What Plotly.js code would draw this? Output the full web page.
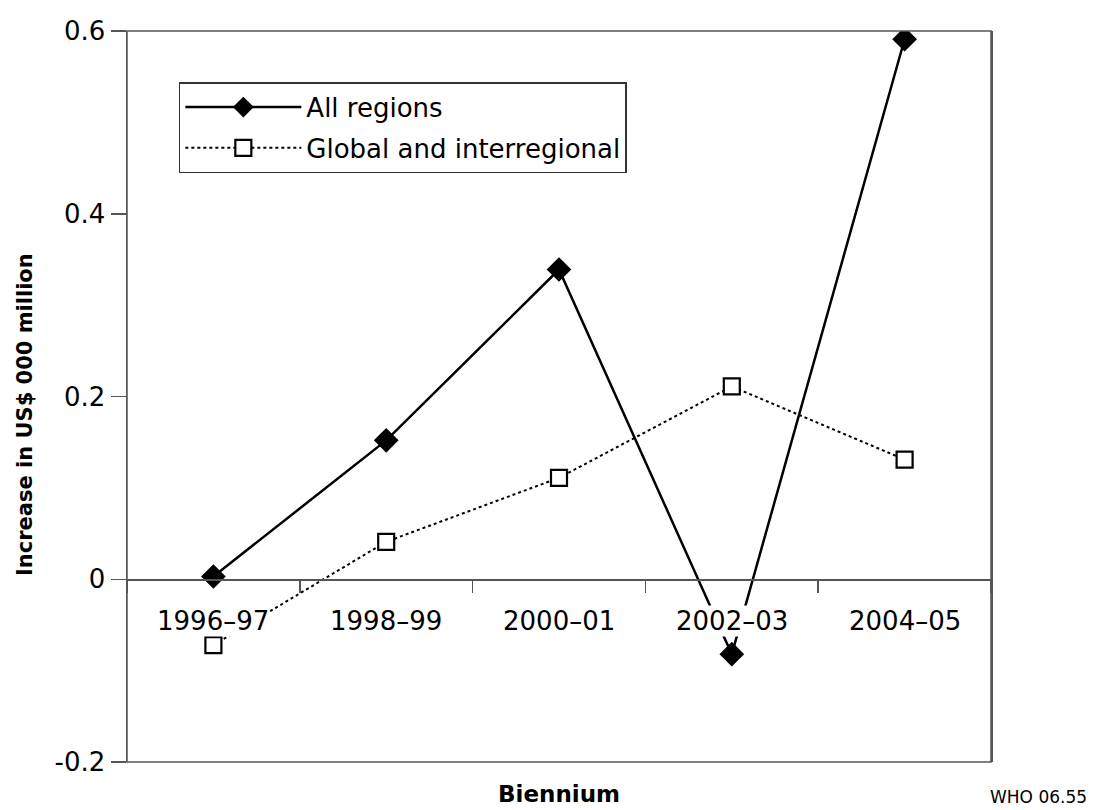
<!DOCTYPE html>
<html>
<head>
<meta charset="utf-8">
<script src="https://cdn.plot.ly/plotly-3.0.1.min.js"></script>
<style>
  html, body { margin: 0; padding: 0; background: #fff; }
  #chart { width: 1093px; height: 810px; }
</style>
</head>
<body>
<div id="chart"></div>
<script>
// ---- data ----
const categories = ["1996\u201397", "1998\u201399", "2000\u201301", "2002\u201303", "2004\u201305"];
const allRegions = [0.003, 0.152, 0.339, -0.082, 0.591];
const globalInterregional = [-0.072, 0.041, 0.111, 0.211, 0.131];
const seriesNames = ["All regions", "Global and interregional"];
const yTickVals = [-0.2, 0, 0.2, 0.4, 0.6];
const yTickText = ["-0.2", "0", "0.2", "0.4", "0.6"];
const yTitle = "Increase in US$ 000 million";
const xTitle = "Biennium";
const sourceNote = "WHO 06.55";

const FONT = "DejaVu Sans, Liberation Sans, Arial, sans-serif";
const AXC = "#555";

const traces = [
  {
    x: categories, y: allRegions, name: seriesNames[0], legendgroup: "g1",
    type: "scatter", mode: "lines+markers",
    line: { color: "#000", width: 2.5 },
    marker: { symbol: "diamond", size: 19, color: "#000" }
  },
  {
    x: categories, y: globalInterregional, name: seriesNames[1], legendgroup: "g2",
    type: "scatter", mode: "lines+markers",
    line: { color: "#000", width: 2, dash: "dot" },
    marker: { symbol: "square", size: 16, color: "#fff", line: { color: "#000", width: 2.2 } }
  }
];

const labelAnnotations = categories.map(c => ({
  x: c, y: 0, xref: "x", yref: "y",
  text: c, showarrow: false,
  yanchor: "middle", yshift: -42,
  bgcolor: "#fff", borderpad: 0,
  font: { family: FONT, size: 26, color: "#000" }
}));

const layout = {
  width: 1093, height: 810,
  margin: { l: 127, r: 102, t: 31, b: 48 },
  paper_bgcolor: "#fff", plot_bgcolor: "#fff",
  font: { family: FONT, color: "#000" },
  showlegend: true,
  legend: {
    x: 0.06, y: 0.93, xanchor: "left", yanchor: "top",
    bgcolor: "#fff", bordercolor: "#333", borderwidth: 1.5,
    font: { family: FONT, size: 26, color: "#000" },
    itemwidth: 116, tracegroupgap: 4, traceorder: "grouped"
  },
  xaxis: {
    type: "category", categoryorder: "array", categoryarray: categories,
    range: [-0.5, 4.5],
    anchor: "free", position: 0.25,
    showline: true, linecolor: AXC, linewidth: 1.5,
    ticks: "outside", ticklen: 12, tickcolor: AXC, tickwidth: 1.5,
    tickson: "boundaries",
    showticklabels: false, showgrid: false, zeroline: false,
    fixedrange: true
  },
  yaxis: {
    range: [-0.2, 0.6],
    tickvals: yTickVals, ticktext: yTickText,
    showline: true, mirror: true, linecolor: AXC, linewidth: 1.5,
    ticks: "outside", ticklen: 15, tickcolor: AXC, tickwidth: 1.5,
    tickfont: { family: FONT, size: 26, color: "#000" },
    showgrid: false, zeroline: false
  },
  shapes: [
    { type: "rect", xref: "paper", yref: "paper", x0: 0, x1: 1, y0: 0, y1: 1,
      line: { color: AXC, width: 1.5 }, fillcolor: "rgba(0,0,0,0)", layer: "above" }
  ],
  annotations: labelAnnotations.concat([
    {
      x: -0.118, y: 0.4747, xref: "paper", yref: "paper",
      xanchor: "center", yanchor: "middle", textangle: -90,
      text: "<b>" + yTitle + "</b>", showarrow: false,
      font: { family: FONT, size: 21, color: "#000" }
    },
    {
      x: 0.5, y: -0.0645, xref: "paper", yref: "paper",
      xanchor: "center", yanchor: "bottom",
      text: "<b>" + xTitle + "</b>", showarrow: false,
      font: { family: FONT, size: 23, color: "#000" }
    },
    {
      x: 1.114, y: -0.0645, xref: "paper", yref: "paper",
      xanchor: "right", yanchor: "bottom",
      text: sourceNote, showarrow: false,
      font: { family: FONT, size: 17, color: "#000" }
    }
  ])
};

Plotly.newPlot("chart", traces, layout, { displayModeBar: false, staticPlot: true });
</script>
</body>
</html>
